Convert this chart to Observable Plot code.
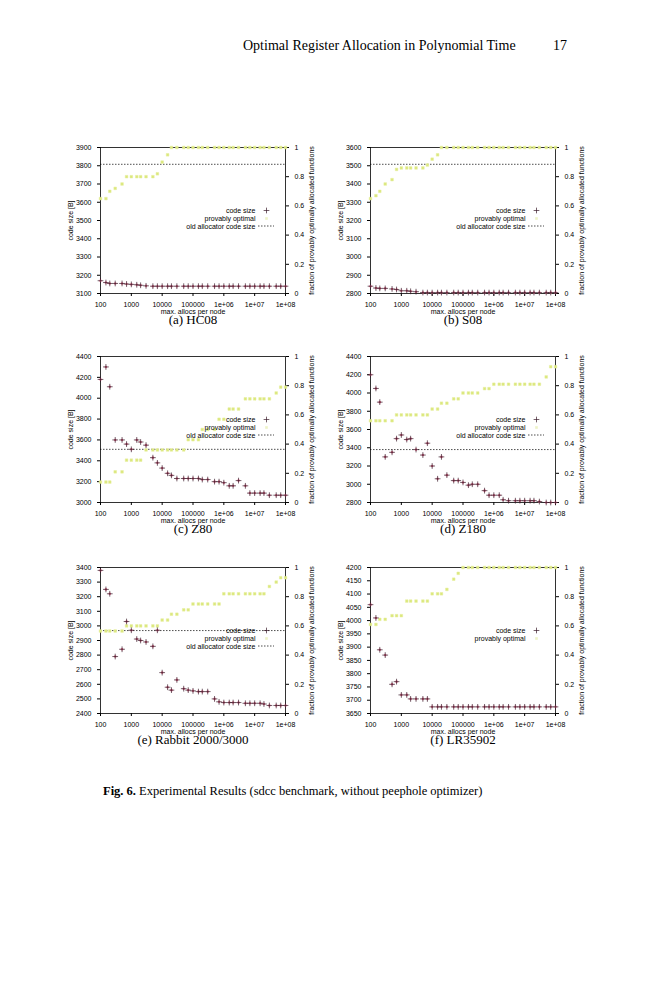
<!DOCTYPE html>
<html><head><meta charset="utf-8">
<script src="https://cdn.jsdelivr.net/npm/d3@7"></script>
<script src="https://cdn.jsdelivr.net/npm/@observablehq/plot@0.6"></script>
<style>
body{margin:0;background:#fff;width:659px;height:1000px;position:relative;font-family:"Liberation Serif","DejaVu Serif",serif;}
.abs{position:absolute;}
.sub{position:absolute;font-size:13px;text-align:center;width:186px;}
svg text{font-family:"Liberation Sans",Arial,sans-serif;}
</style></head><body>
<div class="abs" style="left:243px;top:38px;font-size:14px;">Optimal Register Allocation in Polynomial Time</div>
<div class="abs" style="left:553px;top:38px;font-size:14px;">17</div>
<div class="abs" style="left:103px;top:784px;font-size:12.5px;"><b>Fig. 6.</b> Experimental Results (sdcc benchmark, without peephole optimizer)</div>
<script>
const allocs = [100,150,200,300,500,700,1e3,1.5e3,2e3,3e3,5e3,7e3,1e4,1.5e4,2e4,3e4,5e4,7e4,1e5,1.5e5,2e5,3e5,5e5,7e5,1e6,1.5e6,2e6,3e6,5e6,7e6,1e7,1.5e7,2e7,3e7,5e7,7e7,1e8];
const xTicks = [100,1000,1e4,1e5,1e6,1e7,1e8];
const xTickLabels = ["100","1000","10000","100000","1e+06","1e+07","1e+08"];
const fracTicks = [0,0.2,0.4,0.6,0.8,1];
const fracTickLabels = ["0","0.2","0.4","0.6","0.8","1"];

const names = ["(a) HC08","(b) S08","(c) Z80","(d) Z180","(e) Rabbit 2000/3000","(f) LR35902"];
const yDomains = [[3100,3900],[2800,3600],[3000,4400],[2800,4400],[2400,3400],[3650,4200]];
const yStep = [100,100,200,200,100,50];
const oldAlloc = [3808,3508,3510,3380,2968,null];

const codeA = [3170,3160,3155,3155,3155,3152,3150,3148,3145,3142,3140,3140,3140,3140,3140,3140,3140,3140,3140,3140,3140,3140,3140,3140,3140,3140,3140,3140,3140,3140,3140,3140,3140,3140,3140,3140,3140];
const fracA = [0.65,0.65,0.7,0.72,0.75,0.8,0.8,0.8,0.8,0.8,0.8,0.82,0.9,0.95,1,1,1,1,1,1,1,1,1,1,1,1,1,1,1,1,1,1,1,1,1,1,1];
const codeB = [2840,2830,2828,2828,2825,2822,2815,2815,2812,2810,2805,2805,2805,2805,2805,2805,2805,2805,2805,2805,2805,2805,2805,2805,2805,2805,2805,2805,2805,2805,2805,2805,2805,2805,2805,2805,2805];
const fracB = [0.65,0.67,0.7,0.75,0.78,0.85,0.86,0.86,0.86,0.86,0.86,0.88,0.92,0.95,1,1,1,1,1,1,1,1,1,1,1,1,1,1,1,1,1,1,1,1,1,1,1];
const codeC = [4180,4300,4110,3600,3600,3560,3510,3600,3580,3550,3430,3380,3330,3280,3260,3230,3230,3230,3230,3230,3220,3220,3200,3200,3190,3160,3160,3210,3160,3090,3090,3090,3090,3070,3070,3070,3070];
const fracC = [0.14,0.14,0.14,0.21,0.21,0.29,0.29,0.29,0.29,0.36,0.36,0.36,0.36,0.36,0.36,0.36,0.36,0.43,0.43,0.43,0.5,0.5,0.5,0.57,0.57,0.64,0.64,0.64,0.71,0.71,0.71,0.71,0.71,0.71,0.75,0.79,0.79];
const codeD = [4200,4050,3900,3300,3350,3500,3540,3490,3500,3380,3320,3450,3200,3060,3300,3100,3040,3040,3020,2990,3000,3000,2930,2880,2880,2880,2830,2820,2820,2820,2820,2820,2820,2810,2800,2800,2800];
const fracD = [0.56,0.56,0.56,0.56,0.56,0.6,0.6,0.6,0.6,0.6,0.6,0.6,0.64,0.64,0.68,0.68,0.71,0.71,0.75,0.75,0.75,0.75,0.78,0.78,0.81,0.81,0.81,0.81,0.81,0.81,0.81,0.81,0.81,0.81,0.86,0.93,0.93];
const codeE = [3380,3250,3220,2790,2840,3030,2970,2910,2900,2890,2860,2970,2680,2580,2560,2630,2570,2560,2555,2550,2550,2550,2500,2480,2475,2475,2475,2475,2470,2470,2470,2470,2465,2455,2455,2455,2455];
const fracE = [0.565,0.565,0.565,0.565,0.565,0.6,0.6,0.6,0.6,0.6,0.6,0.6,0.64,0.64,0.68,0.68,0.71,0.71,0.75,0.75,0.75,0.75,0.75,0.75,0.82,0.82,0.82,0.82,0.82,0.82,0.82,0.82,0.82,0.87,0.9,0.93,0.93];
const codeF = [4060,4010,3890,3870,3760,3770,3720,3720,3705,3705,3705,3705,3675,3675,3675,3675,3675,3675,3675,3675,3675,3675,3675,3675,3675,3675,3675,3675,3675,3675,3675,3675,3675,3675,3675,3675,3675];
const fracF = [0.61,0.61,0.645,0.645,0.67,0.67,0.67,0.77,0.77,0.77,0.77,0.77,0.82,0.82,0.82,0.85,0.92,0.96,1,1,1,1,1,1,1,1,1,1,1,1,1,1,1,1,1,1,1];

const codes = [codeA,codeB,codeC,codeD,codeE,codeF];
const fracs = [fracA,fracB,fracC,fracD,fracE,fracF];
const lefts = [60,330];
const tops = [140,349,560];

names.forEach((name,i)=>{
  const [y0,y1] = yDomains[i];
  const toY = f => y0 + f*(y1-y0);
  const rows = allocs.map((a,j)=>({x:a, code:codes[i][j], frac:toY(fracs[i][j])}));
  const yt = d3.range(y0, y1+0.1, yStep[i]);
  const fracPos = fracTicks.map(toY);
  const marks = [
    Plot.frame({stroke:"#000",strokeWidth:0.8}),
    Plot.axisX({ticks:xTicks, tickFormat:(d)=>xTickLabels[xTicks.indexOf(d)], tickSize:3, fontSize:7, label:"max. allocs per node", labelAnchor:"center", labelArrow:"none", labelOffset:20}),
    Plot.axisY({ticks:yt, tickFormat:d=>String(d), tickSize:3, fontSize:7, label:"code size [B]", labelAnchor:"center", labelArrow:"none", labelOffset:32}),
    Plot.axisY({ticks:fracPos, anchor:"right", tickSize:3, fontSize:7, tickFormat:(d)=>fracTickLabels[fracPos.indexOf(d)], label:"fraction of provably optimally allocated functions", labelAnchor:"center", labelArrow:"none", labelOffset:28}),
  ];
  if (oldAlloc[i]!==null) marks.push(Plot.ruleY([oldAlloc[i]],{stroke:"#000",strokeWidth:0.7,strokeDasharray:"1.5,1.5"}));
  marks.push(
    Plot.dot(rows,{x:"x",y:"frac",symbol:"square",r:1.5,fill:"#dbe87c",stroke:"#e6ef9f",strokeWidth:0.5}),
    Plot.dot(rows,{x:"x",y:"code",symbol:"circle",r:1.3,fill:"#e8738f"}),
    Plot.dot(rows,{x:"x",y:"code",symbol:"plus",r:2,stroke:"#3a1a2a",strokeWidth:0.7}),
    Plot.text(["code size"],{text:d=>d,frameAnchor:"right",textAnchor:"end",dx:-30,dy:-10,fontSize:7}),
    Plot.text(["provably optimal"],{text:d=>d,frameAnchor:"right",textAnchor:"end",dx:-30,dy:-2,fontSize:7}),
    Plot.dot(["c"],{frameAnchor:"right",dx:-19,dy:-10,symbol:"plus",r:2,stroke:"#3a1a2a",strokeWidth:0.7}),
    Plot.dot(["p"],{frameAnchor:"right",dx:-19,dy:-2,symbol:"square",r:1.5,fill:"#eef3c8"})
  );
  if (oldAlloc[i]!==null) marks.push(Plot.text(["old allocator code size"],{text:d=>d,frameAnchor:"right",textAnchor:"end",dx:-30,dy:6,fontSize:7}));
  const chart = Plot.plot({
    width:265, height:180, marginLeft:40, marginRight:40, marginTop:7, marginBottom:27,
    x:{type:"log", domain:[100,1e8]},
    y:{domain:[y0,y1]},
    style:{fontSize:"7px", background:"#fff", overflow:"visible"},
    marks
  });
  const box = document.createElement("div");
  box.className="abs";
  box.style.left = lefts[i%2]+"px";
  box.style.top = tops[Math.floor(i/2)]+"px";
  box.appendChild(chart);
  document.body.appendChild(box);
  if (oldAlloc[i]!==null) {
    const cy = 7+(180-34)/2 + 6;
    d3.select(chart).append("line").attr("x1",265-40-27).attr("x2",265-40-11).attr("y1",cy).attr("y2",cy)
      .attr("stroke","#000").attr("stroke-width",0.7).attr("stroke-dasharray","1.5,1.5");
  }
  const sub = document.createElement("div");
  sub.className="sub";
  sub.textContent = name;
  sub.style.left = (lefts[i%2]+40)+"px";
  sub.style.top = (tops[Math.floor(i/2)]+172)+"px";
  document.body.appendChild(sub);
});
</script>
</body></html>
